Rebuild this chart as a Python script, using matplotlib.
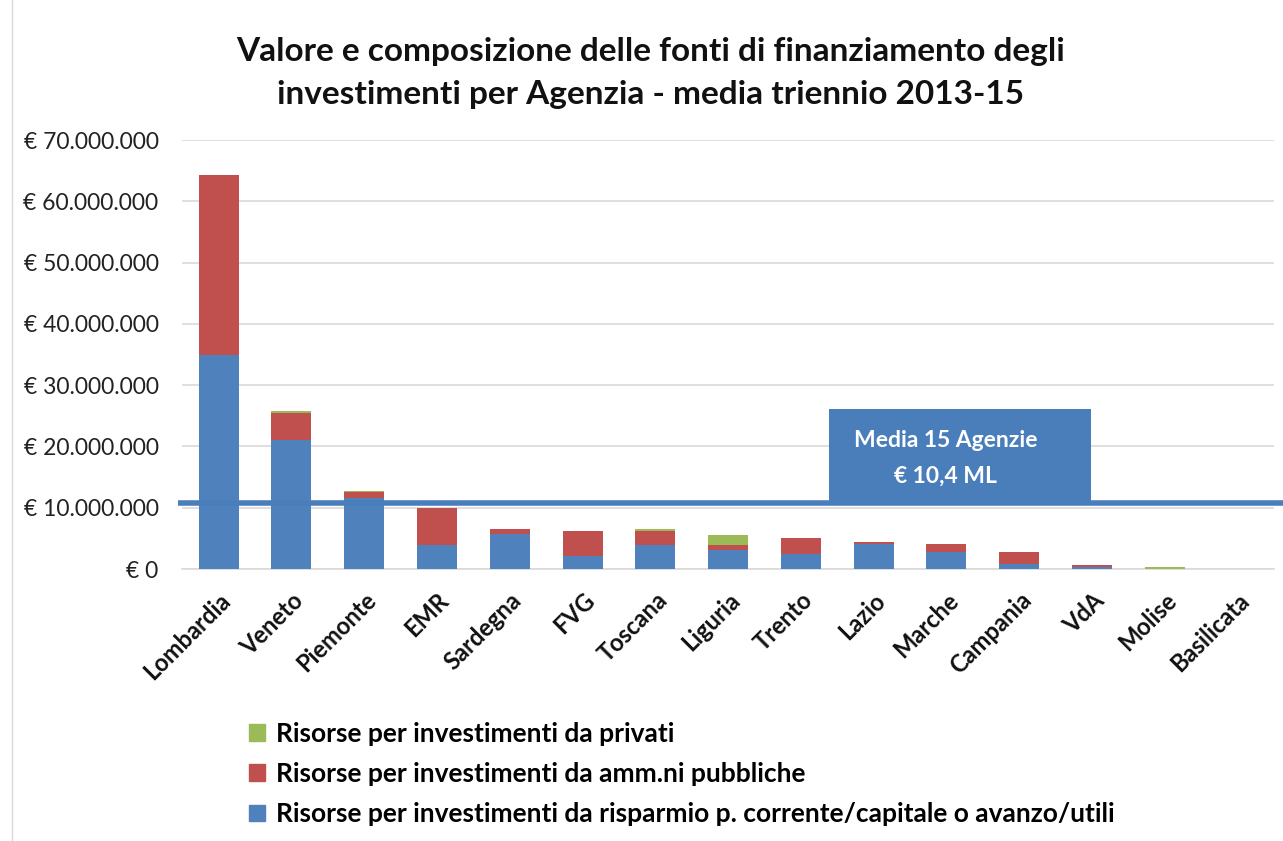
import matplotlib.pyplot as plt
from matplotlib.patches import Rectangle
from matplotlib.lines import Line2D
import numpy as np

plt.rcParams['font.family'] = ['Lato', 'DejaVu Sans']

# -----------------------------
# Dati (milioni di euro)
# -----------------------------
agenzie = ["Lombardia", "Veneto", "Piemonte", "EMR", "Sardegna", "FVG", "Toscana",
           "Liguria", "Trento", "Lazio", "Marche", "Campania", "VdA", "Molise", "Basilicata"]
risparmio = [34.9, 21.0, 11.6, 4.0, 5.7, 2.1, 4.0, 3.1, 2.4, 4.1, 2.8, 0.9, 0.35, 0.05, 0.0]
amm_pubbliche = [29.4, 4.4, 0.9, 6.0, 0.8, 4.1, 2.2, 0.9, 2.6, 0.3, 1.3, 1.9, 0.3, 0.0, 0.0]
privati = [0.0, 0.4, 0.3, 0.0, 0.0, 0.0, 0.3, 1.6, 0.0, 0.0, 0.0, 0.0, 0.0, 0.25, 0.0]
media_label = "Media 15 Agenzie\n€ 10,4 ML"
media_line = 10.8  # posizione della linea disegnata nel grafico originale

y_ticks = [0, 10, 20, 30, 40, 50, 60, 70]

BLUE = "#4F81BD"
RED = "#C0504D"
GREEN = "#9BBB59"
LINE_BLUE = "#4A7EBB"


def euro(v):
    if v == 0:
        return "€ 0"
    return "€ " + f"{int(v * 1_000_000):,}".replace(",", ".")


fig = plt.figure(figsize=(12.83, 8.41), dpi=100)
ax = fig.add_axes([0.142, 0.3234, 0.851, 0.5101])

x = np.arange(len(agenzie))
w = 0.55
b1 = np.array(risparmio)
b2 = b1 + np.array(amm_pubbliche)

ax.bar(x, risparmio, w, color=BLUE, zorder=3)
ax.bar(x, amm_pubbliche, w, bottom=b1, color=RED, zorder=3)
ax.bar(x, privati, w, bottom=b2, color=GREEN, zorder=3)

ax.set_xlim(-0.5, len(agenzie) - 0.5)
ax.set_ylim(0, 70)
ax.set_yticks(y_ticks)
ax.set_yticklabels([euro(v) for v in y_ticks], fontsize=16.5, color="#222222")
ax.yaxis.grid(True, color="#d9d9d9", linewidth=1.2, zorder=0)
ax.set_axisbelow(True)
ax.tick_params(axis="y", length=0, pad=17)
for s in ["top", "right", "left"]:
    ax.spines[s].set_visible(False)
ax.spines["bottom"].set_color("#d9d9d9")
ax.spines["bottom"].set_linewidth(1.2)

ax.set_xticks(x)
ax.set_xticklabels(agenzie, rotation=45, ha="right", rotation_mode="anchor",
                   fontsize=17, fontweight="bold", color="#111111")
ax.tick_params(axis="x", length=0, pad=14)

# linea della media
ax.plot([-0.56, 14.65], [media_line, media_line], color=LINE_BLUE, lw=4,
        zorder=5, clip_on=False, solid_capstyle="butt")

# riquadro della media
box = Rectangle((8.38, media_line), 3.6, 26.1 - media_line, facecolor=LINE_BLUE,
                edgecolor="none", zorder=6)
ax.add_patch(box)
ax.text(9.99, 18.1, media_label, ha="center", va="center", color="white",
        fontsize=16.5, fontweight="bold", linespacing=1.85, zorder=7)

fig.text(0.507, 0.913, "Valore e composizione delle fonti di finanziamento degli\n"
         "investimenti per Agenzia - media triennio 2013-15",
         ha="center", va="center", fontsize=24, fontweight="bold",
         linespacing=1.6, color="#111111")

handles = [Rectangle((0, 0), 1, 1, color=GREEN),
           Rectangle((0, 0), 1, 1, color=RED),
           Rectangle((0, 0), 1, 1, color=BLUE)]
labels = ["Risorse per investimenti da privati",
          "Risorse per investimenti da amm.ni pubbliche",
          "Risorse per investimenti da risparmio p. corrente/capitale o avanzo/utili"]
fig.legend(handles, labels, loc="upper left", bbox_to_anchor=(0.186, 1 - 711 / 841),
           frameon=False, handlelength=0.6, handleheight=0.6, handletextpad=0.4,
           labelspacing=0.62, borderaxespad=0, prop={"size": 19, "weight": "bold"})

fig.add_artist(Line2D([0.009, 0.009], [0.0, 1.0], color="#d9d9d9", lw=1))

fig.savefig("out.png", dpi=100, facecolor="white")
